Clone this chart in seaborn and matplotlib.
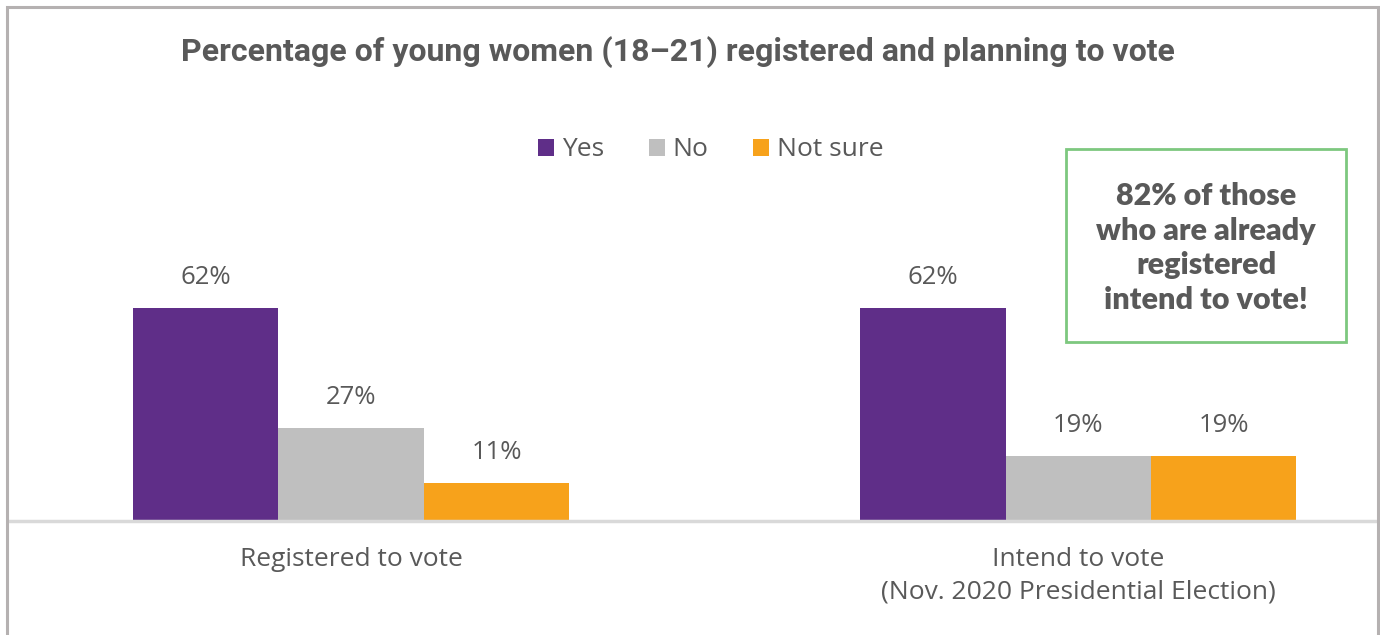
import matplotlib
matplotlib.use('Agg')
import matplotlib.pyplot as plt
from matplotlib.patches import Rectangle, Patch
import seaborn as sns
import pandas as pd

# data
categories = ['Registered to vote', 'Intend to vote\n(Nov. 2020 Presidential Election)']
responses = ['Yes', 'No', 'Not sure']
yes_vals = [62, 62]
no_vals = [27, 19]
notsure_vals = [11, 19]
colors = ['#5f2e88', '#bfbfbf', '#f7a21b']
note_text = '82% of those\nwho are already\nregistered\nintend to vote!'

sns.set_theme(style='white')
plt.rcParams['font.family'] = ['Open Sans', 'DejaVu Sans']
TXT = '#595959'

rows = []
for cat, y, n, ns in zip(categories, yes_vals, no_vals, notsure_vals):
    rows.append((cat, 'Yes', y))
    rows.append((cat, 'No', n))
    rows.append((cat, 'Not sure', ns))
df = pd.DataFrame(rows, columns=['category', 'response', 'value'])

fig = plt.figure(figsize=(13.8, 6.35), dpi=100)
ax = fig.add_axes([8 / 1380, 114 / 635, 1367 / 1380, 343 / 635])

sns.barplot(data=df, x='category', y='value', hue='response', order=categories,
            hue_order=responses, palette=colors, width=0.6, saturation=1,
            ax=ax, legend=False, edgecolor='none', linewidth=0)

for cont in ax.containers:
    ax.bar_label(cont, labels=[f'{int(v)}%' for v in cont.datavalues],
                 padding=13, fontsize=18.5, color=TXT)

ax.set_xlim(-0.472, 1.408)
ax.set_ylim(0, 100)
ax.set_xlabel('')
ax.set_ylabel('')
ax.set_yticks([])
for s in ['top', 'right', 'left']:
    ax.spines[s].set_visible(False)
ax.spines['bottom'].set_color('#d9d9d9')
ax.spines['bottom'].set_linewidth(2.5)
ax.tick_params(axis='x', which='major', length=0, pad=19, labelsize=19, labelcolor=TXT)
ax.set_xticks([0.5], minor=True)
ax.tick_params(axis='x', which='minor', length=7, width=1.5, color='#d9d9d9')
for lbl in ax.get_xticklabels():
    lbl.set_linespacing(1.38)

# title
fig.text(0.491, 0.918, 'Percentage of young women (18\u201321) registered and planning to vote',
         ha='center', va='center', fontsize=23, fontweight='bold', color=TXT,
         family=['Roboto', 'DejaVu Sans'])

# legend
handles = [Patch(facecolor=c, edgecolor='none') for c in colors]
fig.legend(handles, responses, loc='center', bbox_to_anchor=(711 / 1380, 1 - 150 / 635),
           ncol=3, frameon=False, fontsize=19, handlelength=0.6, handleheight=0.6,
           handletextpad=0.3, columnspacing=1.7, labelcolor=TXT)

# note box
fig.patches.append(Rectangle((1066 / 1380, 1 - 342 / 635), 280 / 1380, 193 / 635,
                             transform=fig.transFigure, fill=False,
                             edgecolor='#7dc87f', linewidth=2))
fig.text(1206 / 1380, 1 - 248 / 635, note_text, ha='center', va='center',
         fontsize=22, fontweight='heavy', color=TXT, linespacing=1.28,
         family=['Lato', 'DejaVu Sans'])

# outer border
fig.patches.append(Rectangle((7 / 1380, -0.1), 1371 / 1380, 1.1 - 7 / 635,
                             transform=fig.transFigure, fill=False,
                             edgecolor='#b5b1b1', linewidth=2.2))

fig.savefig('out.png', dpi=100)
